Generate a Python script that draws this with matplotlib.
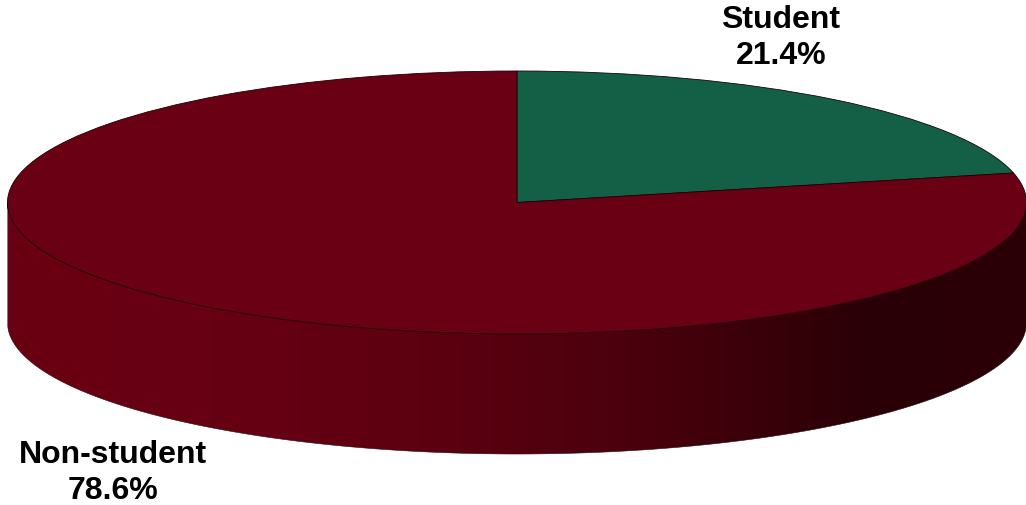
"""
3D looking pie chart, student vs non-student
"""
import matplotlib.pyplot as plt
import numpy as np
from matplotlib.colors import LinearSegmentedColormap
from matplotlib.patches import Polygon

plt.rc("font", family=["Liberation Sans", "DejaVu Sans"], size=23, weight="bold")

categories = ["Student", "Non-student"]
shares = [21.4, 78.6]
colors = ["#146046", "#690013"]

# size of the picture in pixels and where the pie sits in it
W, H = 1026, 506
cx, cy = 517, 203.5
rx, ry = 509.5, 131.5
depth = 120

# shading of the side wall, left to right
wall_stops = [(0.0, "#6a0013"), (0.25, "#650012"), (0.42, "#5c0010"),
              (0.60, "#4c000d"), (0.72, "#3c000a"), (0.85, "#290006"),
              (1.0, "#2b0007")]
wall_cmap = LinearSegmentedColormap.from_list("wall", wall_stops)

fig = plt.figure(figsize=(W / 100, H / 100), dpi=100, facecolor="white")
ax = fig.add_axes([0, 0, 1, 1])

# one data unit = the pie radius, so the circle comes out flattened
patches, texts = ax.pie(shares, colors=colors, startangle=90, counterclock=False,
                        wedgeprops={"edgecolor": "#1c0004", "linewidth": 0.6, "zorder": 3})
ax.set_aspect("auto")
xlim = (-cx / rx, (W - cx) / rx)
ylim = ((cy - H) / ry, cy / ry)
d = depth / ry

# side wall below the front half of the ellipse
t = np.linspace(np.pi, 2 * np.pi, 300)
top = np.column_stack([np.cos(t), np.sin(t)])
bottom = np.column_stack([np.cos(t[::-1]), np.sin(t[::-1]) - d])
wall = Polygon(np.vstack([top, bottom]), closed=True, facecolor="none",
               edgecolor="#2a0a0e", linewidth=0.4, zorder=2)
ax.add_patch(wall)
img = ax.imshow(np.linspace(0, 1, 512)[None, :], cmap=wall_cmap, aspect="auto",
                extent=(-1, 1, -1 - d, 0), zorder=1, interpolation="bilinear")
img.set_clip_path(wall)

ax.set_xlim(xlim)
ax.set_ylim(ylim)
ax.axis("off")

# labels
fig.text(781 / W, 1 - 38 / H, "{}\n{}%".format(categories[0], shares[0]), ha="center",
         va="center", linespacing=1.28, color="black")
fig.text(113 / W, 1 - 473 / H, "{}\n{}%".format(categories[1], shares[1]), ha="center",
         va="center", linespacing=1.28, color="black")

plt.savefig("out.png", dpi=100, facecolor="white")
